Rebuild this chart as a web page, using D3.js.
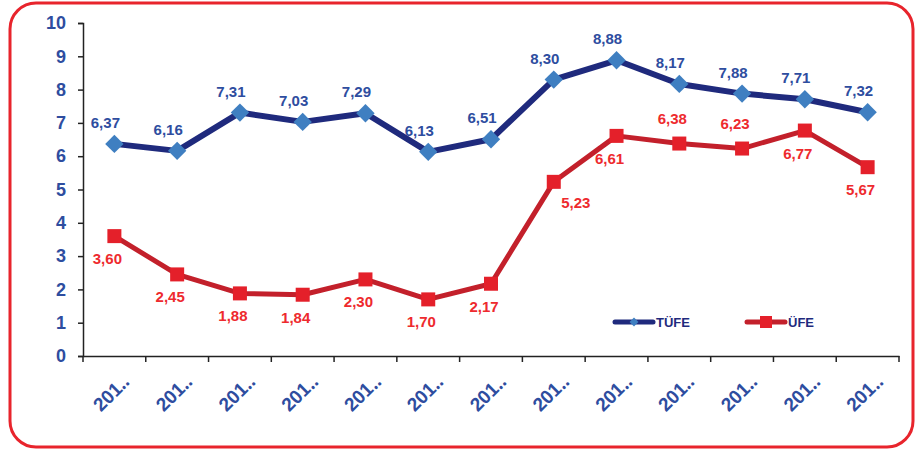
<!DOCTYPE html>
<html>
<head>
<meta charset="utf-8">
<script src="https://cdn.jsdelivr.net/npm/d3@7"></script>
<style>
  body { margin: 0; background: #fff; }
  svg { display: block; font-family: "Liberation Sans", Arial, sans-serif; }
</style>
</head>
<body>
<svg id="chart" width="916" height="450"></svg>
<script>
// data
const categories = ["201‥", "201‥", "201‥", "201‥", "201‥", "201‥", "201‥", "201‥", "201‥", "201‥", "201‥", "201‥", "201‥"];
const tufe = [6.37, 6.16, 7.31, 7.03, 7.29, 6.13, 6.51, 8.30, 8.88, 8.17, 7.88, 7.71, 7.32];
const ufe = [3.60, 2.45, 1.88, 1.84, 2.30, 1.70, 2.17, 5.23, 6.61, 6.38, 6.23, 6.77, 5.67];
const ufeLabelSide = ["below", "below", "below", "below", "below", "below", "below", "right", "below", "above", "above", "below", "below"];
const yTicks = [0, 1, 2, 3, 4, 5, 6, 7, 8, 9, 10];

const svg = d3.select("#chart");
const fmt = v => v.toFixed(2).replace(".", ",");

// rounded red frame
svg.append("rect")
    .attr("x", 10).attr("y", 3)
    .attr("width", 903).attr("height", 444)
    .attr("rx", 26).attr("ry", 26)
    .attr("fill", "#fff")
    .attr("stroke", "#e8242c")
    .attr("stroke-width", 3);

const x = d3.scaleBand().domain(d3.range(categories.length)).range([83, 899]);
const y = d3.scaleLinear().domain([0, 10]).range([356, 23]);
const cx = i => x(i) + x.bandwidth() / 2;

// y axis
const yAxis = svg.append("g")
    .attr("transform", "translate(83,0)")
    .call(d3.axisLeft(y).tickValues(yTicks).tickSize(5).tickPadding(12).tickFormat(d3.format("d")));
yAxis.select(".domain").attr("stroke", "#222").attr("stroke-width", 1.5);
yAxis.selectAll(".tick line").attr("stroke", "#222").attr("stroke-width", 1.5);
yAxis.selectAll("text")
    .attr("fill", "#2e4d9f")
    .attr("font-size", 18)
    .attr("font-weight", "bold");

// x axis, ticks between categories
const xAxis = svg.append("g")
    .attr("transform", "translate(0,356)")
    .call(d3.axisBottom(x).tickSize(0).tickFormat(i => categories[i]));
xAxis.select(".domain").attr("stroke", "#222").attr("stroke-width", 1.5);
xAxis.selectAll(".tick text")
    .attr("fill", "#2e4d9f")
    .attr("font-size", 19)
    .attr("font-weight", "bold")
    .attr("text-anchor", "end")
    .attr("dy", 0)
    .attr("transform", "translate(14,25) rotate(-45)");
svg.append("g").selectAll("line")
    .data(d3.range(categories.length + 1))
    .join("line")
    .attr("x1", i => 83 + i * x.step()).attr("x2", i => 83 + i * x.step())
    .attr("y1", 356).attr("y2", 362)
    .attr("stroke", "#222").attr("stroke-width", 1.5);

const line = d3.line().x((d, i) => cx(i)).y(d => y(d));

// ÜFE
svg.append("path").datum(ufe)
    .attr("d", line)
    .attr("fill", "none")
    .attr("stroke", "#c3202b")
    .attr("stroke-width", 5)
    .attr("stroke-linejoin", "round");
svg.append("g").selectAll("rect")
    .data(ufe)
    .join("rect")
    .attr("x", (d, i) => cx(i) - 7)
    .attr("y", d => y(d) - 7)
    .attr("width", 14).attr("height", 14)
    .attr("fill", "#e4202a");

// TÜFE
svg.append("path").datum(tufe)
    .attr("d", line)
    .attr("fill", "none")
    .attr("stroke", "#1f2a7d")
    .attr("stroke-width", 6)
    .attr("stroke-linejoin", "round");
svg.append("g").selectAll("path")
    .data(tufe)
    .join("path")
    .attr("d", d3.symbol(d3.symbolDiamond2, 215))
    .attr("transform", (d, i) => `translate(${cx(i)},${y(d)})`)
    .attr("fill", "#3f7fc1");

// value labels
svg.append("g").selectAll("text")
    .data(tufe)
    .join("text")
    .attr("x", (d, i) => cx(i) - 9)
    .attr("y", d => y(d) - 16)
    .attr("text-anchor", "middle")
    .attr("fill", "#2e4d9f")
    .attr("font-size", 15)
    .attr("font-weight", "bold")
    .text(fmt);

svg.append("g").selectAll("text")
    .data(ufe)
    .join("text")
    .attr("x", (d, i) => ufeLabelSide[i] === "right" ? cx(i) + 22 : cx(i) - 7)
    .attr("y", (d, i) => {
        const side = ufeLabelSide[i];
        if (side === "above") return y(d) - 20;
        if (side === "right") return y(d) + 26;
        return y(d) + 28;
    })
    .attr("text-anchor", "middle")
    .attr("fill", "#ee2a2e")
    .attr("font-size", 15)
    .attr("font-weight", "bold")
    .text(fmt);

// legend
const legendItems = [
    { name: "TÜFE", stroke: "#1f2a7d", fill: "#3f7fc1", shape: "diamond", x: 615 },
    { name: "ÜFE", stroke: "#c3202b", fill: "#e4202a", shape: "square", x: 747 }
];
const legend = svg.append("g").attr("transform", "translate(0,322)");
legendItems.forEach(item => {
    const g = legend.append("g").attr("transform", `translate(${item.x},0)`);
    g.append("line")
        .attr("x1", 0).attr("x2", 38)
        .attr("stroke", item.stroke)
        .attr("stroke-width", 5)
        .attr("stroke-linecap", "round");
    if (item.shape === "diamond") {
        g.append("path")
            .attr("d", d3.symbol(d3.symbolDiamond2, 50))
            .attr("transform", "translate(19,0)")
            .attr("fill", item.fill);
    } else {
        g.append("rect")
            .attr("x", 13).attr("y", -6)
            .attr("width", 12).attr("height", 12)
            .attr("fill", item.fill);
    }
    g.append("text")
        .attr("x", 41).attr("y", 5)
        .attr("fill", "#1f2a7d")
        .attr("font-size", 13)
        .attr("font-weight", "bold")
        .text(item.name);
});
</script>
</body>
</html>
